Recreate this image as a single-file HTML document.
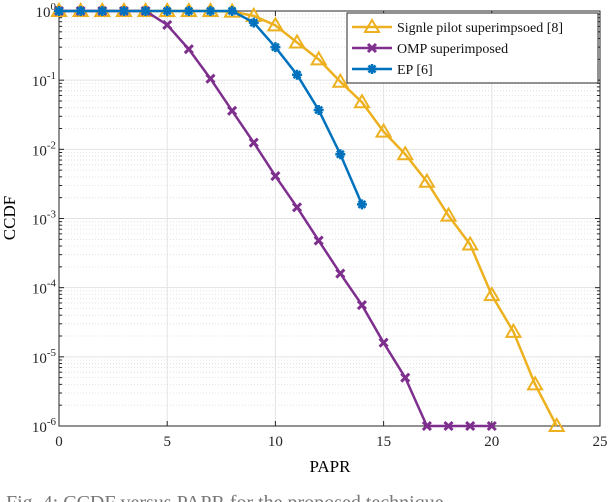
<!DOCTYPE html>
<html><head><meta charset="utf-8"><style>
html,body{margin:0;padding:0;background:#fff;}
svg{display:block;font-family:"Liberation Serif",serif;}
</style></head><body>
<svg id="chart" width="616" height="502" viewBox="0 0 616 502" xmlns="http://www.w3.org/2000/svg">
<g id="grid"></g>
<g id="axes"></g>
<g id="series"></g>
<text x="330" y="472" font-size="17" text-anchor="middle">PAPR</text>
<text transform="translate(15,218) rotate(-90)" font-size="17" text-anchor="middle">CCDF</text>
<text x="6" y="509" font-size="20" fill="#777">Fig. 4: CCDF versus PAPR for the proposed technique</text>
<g id="legend"></g>
</svg>
<script>
const xVals=[0,1,2,3,4,5,6,7,8,9,10,11,12,13,14,15,16,17,18,19,20,21,22,23];
const singlePilot=[1,1,1,1,1,1,1,1,0.98,0.85,0.62,0.35,0.2,0.095,0.048,0.018,0.0085,0.0034,0.0011,0.00042,0.000078,0.000023,0.000004,0.000001];
const ompX=[0,1,2,3,4,5,6,7,8,9,10,11,12,13,14,15,16,17,18,19,20];
const omp=[1,1,1,1,1,0.63,0.28,0.105,0.036,0.0125,0.0041,0.00145,0.00048,0.00016,0.000056,0.000016,0.000005,0.000001,0.000001,0.000001,0.000001];
const epX=[0,1,2,3,4,5,6,7,8,9,10,11,12,13,14];
const ep=[1,1,1,1,1,1,1,1,1,0.68,0.3,0.12,0.037,0.0085,0.0016];
const xTicks=[0,5,10,15,20,25];
const yExps=[0,-1,-2,-3,-4,-5,-6];
const legendLabels=["Signle pilot superimpsoed [8]","OMP superimposed","EP [6]"];

const L=59,R=600,T=11,B=426;
const sx=v=>L+(v/25)*(R-L);
const sy=v=>T+(-Math.log10(v)/6)*(B-T);
const NS="http://www.w3.org/2000/svg";
function mk(tag,attrs,parent){const e=document.createElementNS(NS,tag);for(const k in attrs)e.setAttribute(k,attrs[k]);parent.appendChild(e);return e;}
const grid=document.getElementById('grid'),axes=document.getElementById('axes'),series=document.getElementById('series'),legend=document.getElementById('legend');
xTicks.forEach(t=>{const l=mk('line',{x1:sx(t),x2:sx(t),y1:T,y2:B,stroke:'#e3e3e3','stroke-width':1},grid);

});
for(let e=0;e>-6;e--){for(let m=2;m<=9;m++){const v=m*Math.pow(10,e-1);const l=mk('line',{x1:L,x2:R,y1:sy(v),y2:sy(v),stroke:'#dcdcdc','stroke-width':0.8,'stroke-dasharray':'1,2'},grid);

}}
yExps.forEach(e=>{const l=mk('line',{x1:L,x2:R,y1:sy(Math.pow(10,e)),y2:sy(Math.pow(10,e)),stroke:'#e3e3e3','stroke-width':1},grid);

});
const box=mk('rect',{x:L,y:T,width:R-L,height:B-T,fill:'none',stroke:'#262626','stroke-width':1},axes);


xTicks.forEach(t=>{mk('line',{x1:sx(t),x2:sx(t),y1:B,y2:B-5,stroke:'#262626'},axes);mk('line',{x1:sx(t),x2:sx(t),y1:T,y2:T+5,stroke:'#262626'},axes);
const tx=mk('text',{x:sx(t),y:B+20,'font-size':15,'text-anchor':'middle',fill:'#262626'},axes);tx.textContent=t;

});
yExps.forEach(e=>{const y=sy(Math.pow(10,e));mk('line',{x1:L,x2:L+5,y1:y,y2:y,stroke:'#262626'},axes);mk('line',{x1:R,x2:R-5,y1:y,y2:y,stroke:'#262626'},axes);
const tx=mk('text',{x:L-3,y:y+6,'font-size':15,'text-anchor':'end',fill:'#262626'},axes);
tx.innerHTML='10<tspan dy="-7" font-size="11">'+e+'</tspan>';

});
for(let e=0;e>-6;e--){for(let m=2;m<=9;m++){const y=sy(m*Math.pow(10,e-1));mk('line',{x1:L,x2:L+3,y1:y,y2:y,stroke:'#262626'},axes);mk('line',{x1:R,x2:R-3,y1:y,y2:y,stroke:'#262626'},axes);}}
function marker(type,x,y,c,g){
 if(type==='tri'){return mk('polygon',{points:`${x},${y-7} ${x-7},${y+5} ${x+7},${y+5}`,fill:'none',stroke:c,'stroke-width':2},g);}
 if(type==='x'){return mk('path',{d:`M${x-4},${y-4}L${x+4},${y+4}M${x-4},${y+4}L${x+4},${y-4}`,stroke:c,'stroke-width':3},g);}
 return mk('path',{d:`M${x-5},${y}L${x+5},${y}M${x},${y-5}L${x},${y+5}M${x-3.5},${y-3.5}L${x+3.5},${y+3.5}M${x-3.5},${y+3.5}L${x+3.5},${y-3.5}`,stroke:c,'stroke-width':2.5},g);
}
function drawSeries(xs,ys,c,type,name){
 const g=mk('g',{},series);
 
 
 const pl=mk('polyline',{points:xs.map((x,i)=>sx(x)+','+sy(ys[i])).join(' '),fill:'none',stroke:c,'stroke-width':2.5},g);
 
 
 xs.forEach((x,i)=>{const m=marker(type,sx(x),sy(ys[i]),c,g);
 
 });
}
drawSeries(xVals,singlePilot,'#EDB120','tri','single-pilot-series');
drawSeries(ompX,omp,'#7E2F8E','x','omp-series');
drawSeries(epX,ep,'#0072BD','star','ep-series');
const lb=mk('rect',{x:347,y:13,width:251,height:70,fill:'#fff',stroke:'#262626','stroke-width':1},legend);


const cols=['#EDB120','#7E2F8E','#0072BD'],types=['tri','x','star'];
legendLabels.forEach((s,i)=>{const y=27+i*21;const g=mk('g',{},legend);


mk('line',{x1:352,x2:392,y1:y,y2:y,stroke:cols[i],'stroke-width':2.5},g);marker(types[i],372,y,cols[i],g);
const t=mk('text',{x:397,y:y+5,'font-size':14,fill:'#111'},g);t.textContent=s;});
</script>
</body></html>
